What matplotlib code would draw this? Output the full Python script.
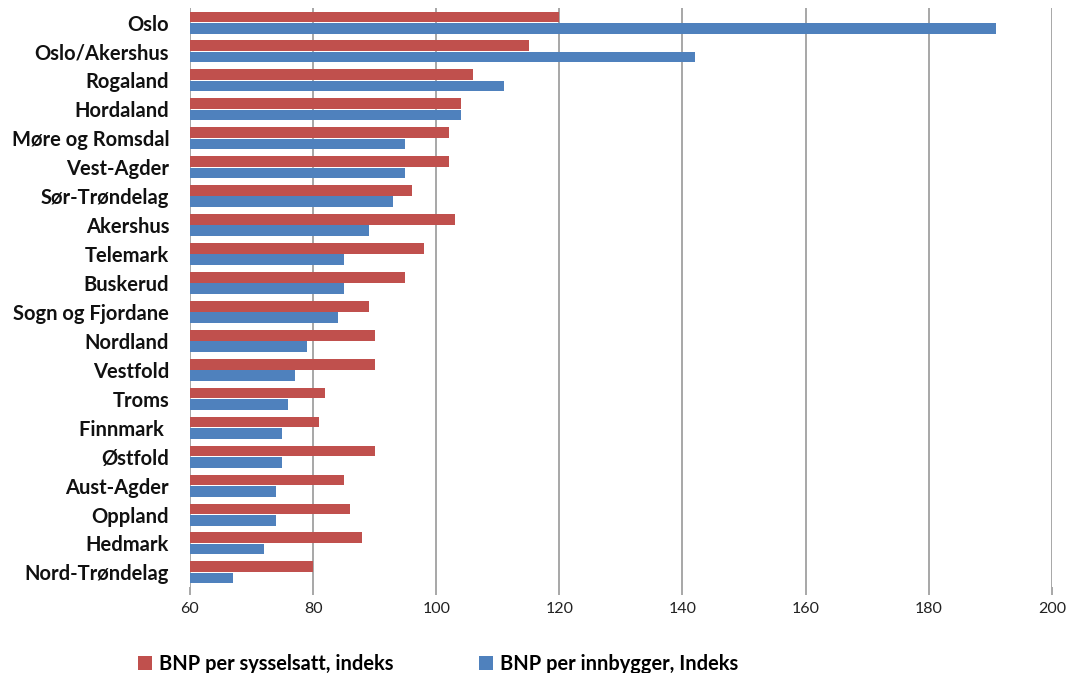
import matplotlib.pyplot as plt
import numpy as np

plt.rcParams['font.family'] = ['Lato', 'DejaVu Sans']

regions = ["Oslo", "Oslo/Akershus", "Rogaland", "Hordaland", "Møre og Romsdal",
           "Vest-Agder", "Sør-Trøndelag", "Akershus", "Telemark", "Buskerud",
           "Sogn og Fjordane", "Nordland", "Vestfold", "Troms", "Finnmark ",
           "Østfold", "Aust-Agder", "Oppland", "Hedmark", "Nord-Trøndelag"]
per_employed = [120, 115, 106, 104, 102, 102, 96, 103, 98, 95,
                89, 90, 90, 82, 81, 90, 85, 86, 88, 80]
per_capita = [191, 142, 111, 104, 95, 95, 93, 89, 85, 85,
              84, 79, 77, 76, 75, 75, 74, 74, 72, 67]
xticks = [60, 80, 100, 120, 140, 160, 180, 200]

red = "#C0504D"
blue = "#4F81BD"

fig = plt.figure(figsize=(10.69, 6.73), dpi=100)
ax = fig.add_axes([0.1777, 0.128, 0.8063, 0.86])

y = np.arange(len(regions))
h = 0.37
ax.barh(y - h / 2 - 0.01, [v - 60 for v in per_employed], left=60, height=h,
        color=red, label="BNP per sysselsatt, indeks", zorder=3)
ax.barh(y + h / 2 + 0.01, [v - 60 for v in per_capita], left=60, height=h,
        color=blue, label="BNP per innbygger, Indeks", zorder=3)

ax.set_xlim(60, 200)
ax.set_ylim(len(regions) - 0.5, -0.5)
ax.set_yticks(y)
ax.set_yticklabels(regions, fontsize=14.5, fontweight="bold", color="#111111")
ax.set_xticks(xticks)
ax.set_xticklabels([str(t) for t in xticks], fontsize=11.5, color="#222222")
ax.tick_params(axis="y", length=0, pad=15)
ax.tick_params(axis="x", length=6, color="#a0a0a0", width=1.3, pad=5)
ax.grid(axis="x", color="#a0a0a0", linewidth=1.3, zorder=0)
for s in ax.spines.values():
    s.set_visible(False)

ax.legend(loc="upper center", bbox_to_anchor=(0.288, -0.085), ncol=2,
          frameon=False, handlelength=0.7, handleheight=0.7, handletextpad=0.35,
          columnspacing=4.3, prop={"weight": "bold", "size": 14.4})

fig.savefig("out.png", dpi=100)
